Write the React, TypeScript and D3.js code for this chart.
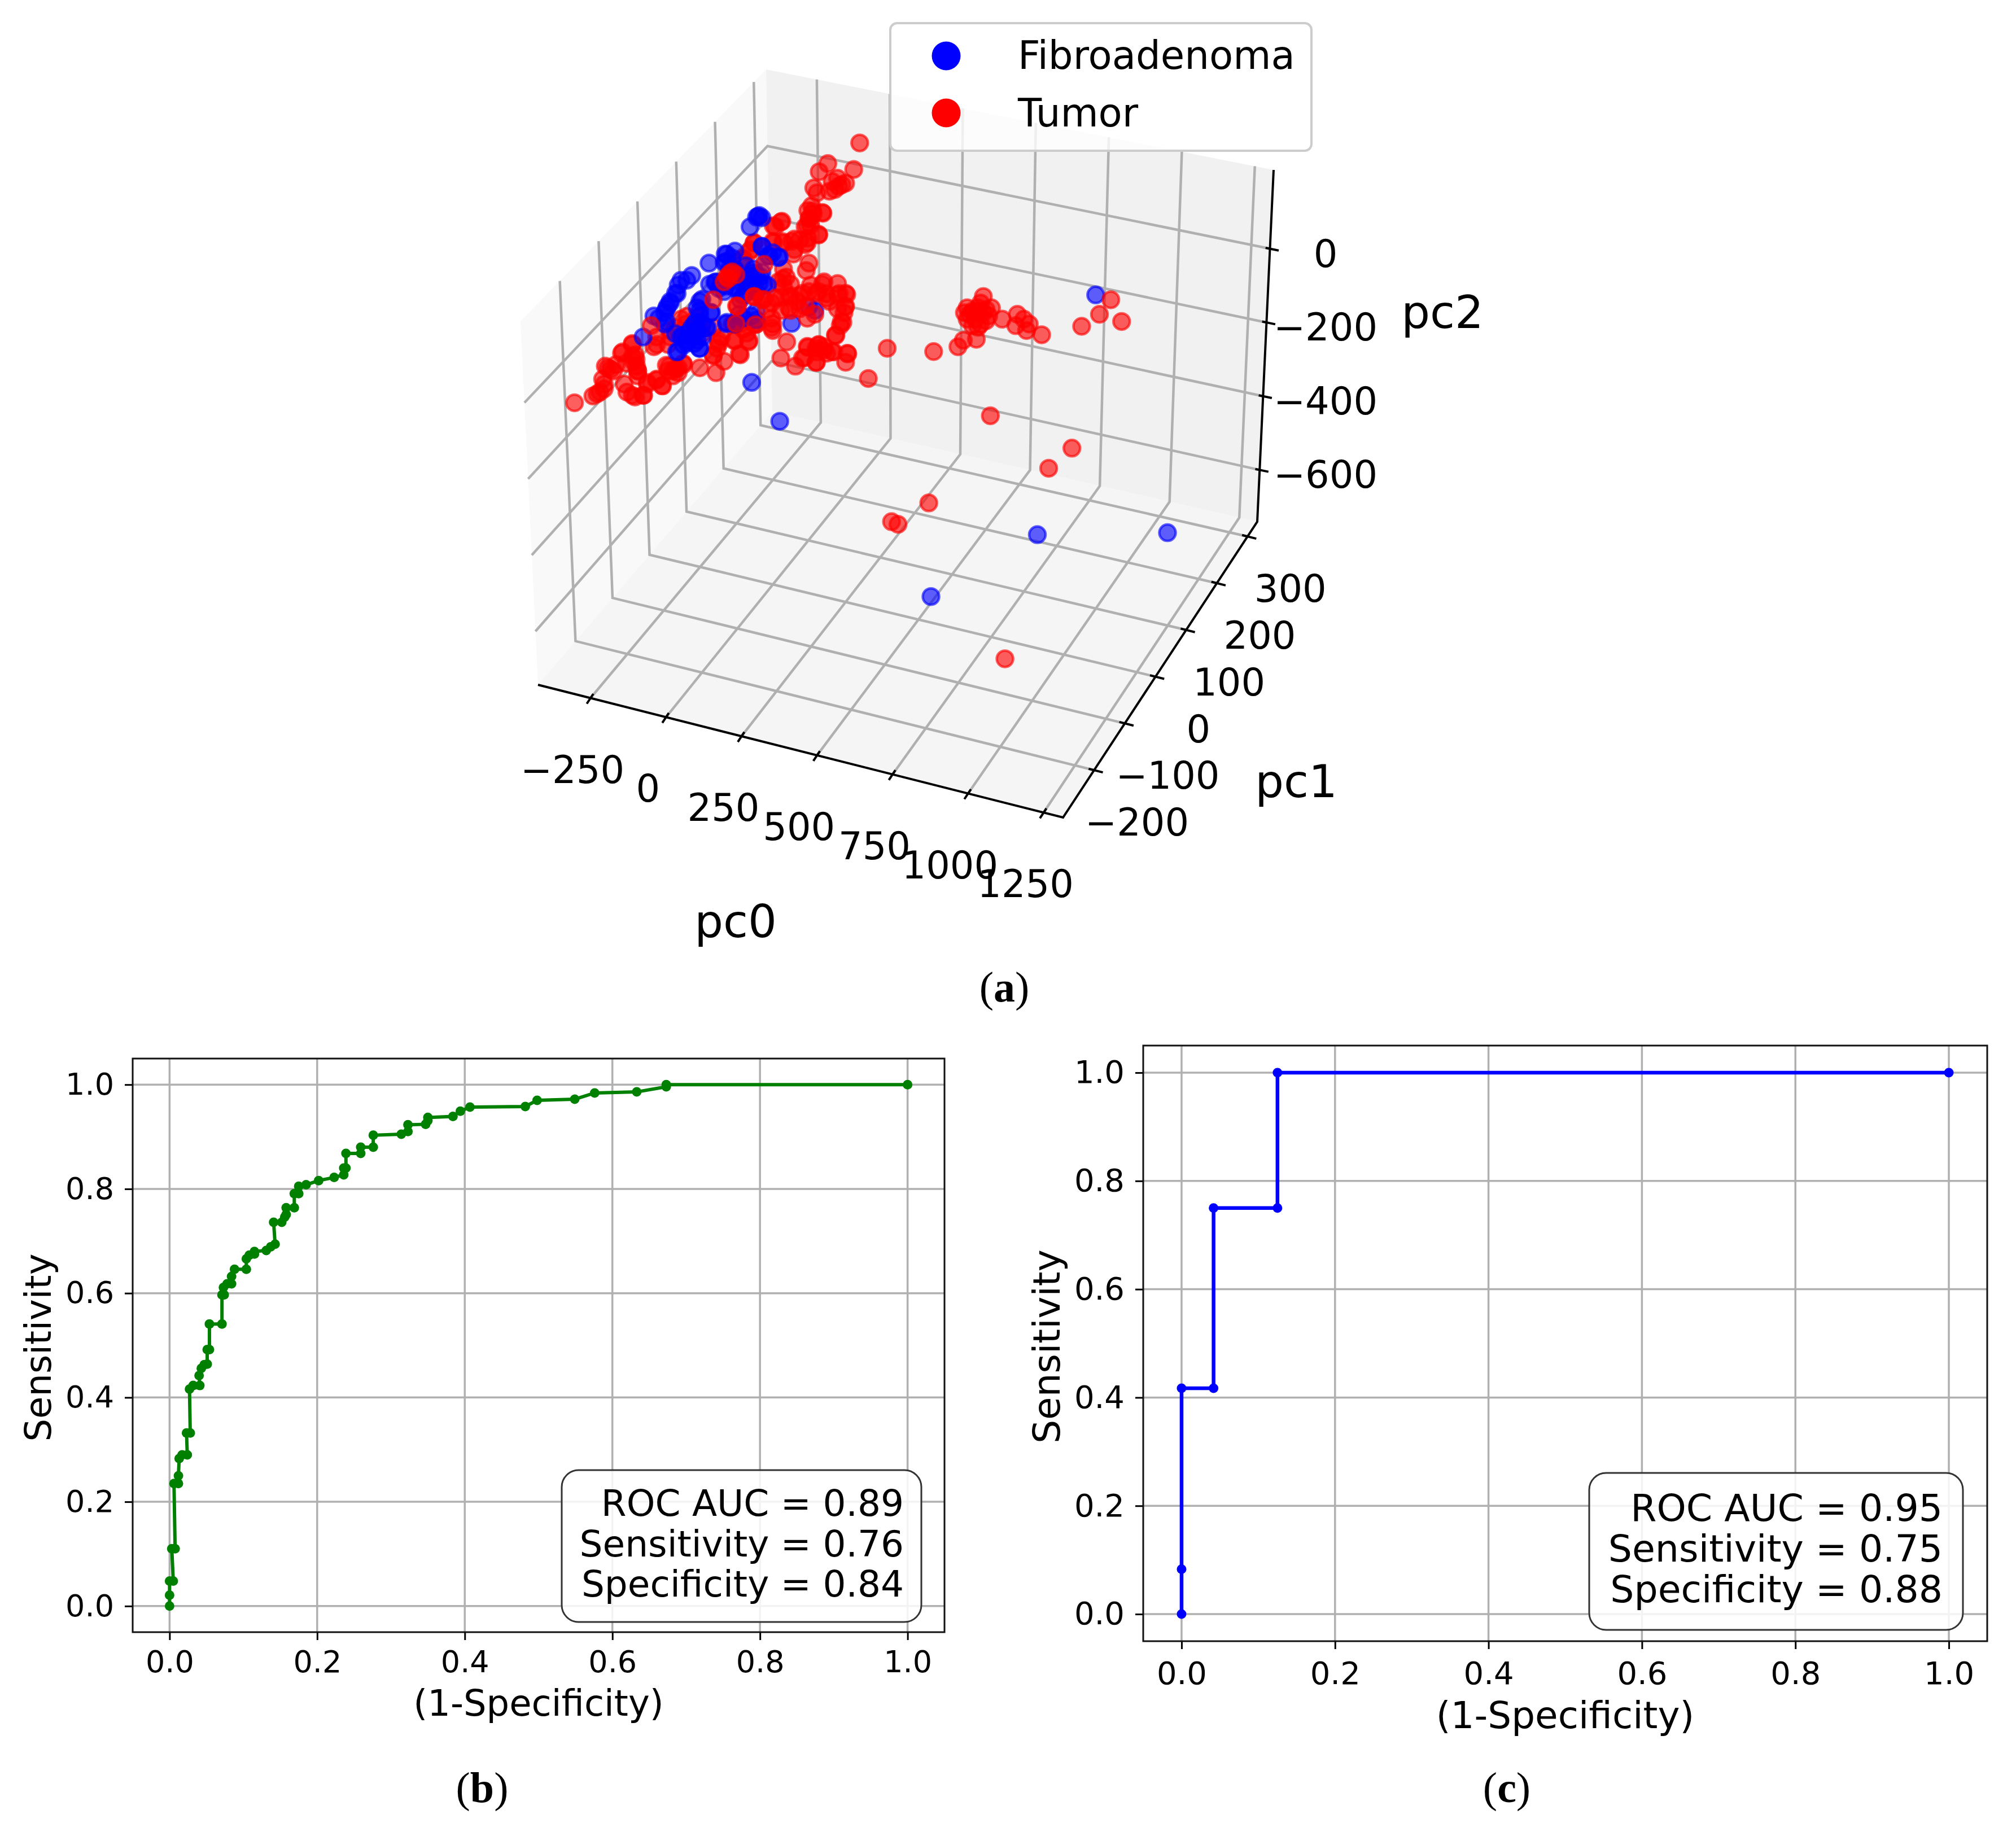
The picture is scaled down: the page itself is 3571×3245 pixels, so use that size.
import React, { useEffect, useRef } from 'react';
import * as d3 from 'd3';

type Pt = [number, number];

// panel (a): only the projected position can be read off a 3D picture, so the
// points are kept in view-plane units (see viewX / viewY below)
const tumorBack: Pt[] = [
  [651, 441], [640, 523], [592, 505], [576, 530], [610, 550], [600, 560], [618, 570], [605, 585], [595, 590],
  [566, 580], [572, 595], [625, 565], [612, 575], [562, 635], [555, 650], [583, 658], [565, 660], [558, 675],
  [560, 695], [550, 700], [505, 685], [495, 700], [575, 725], [555, 735], [540, 740], [525, 745], [510, 750],
  [530, 770], [550, 755], [490, 745], [455, 750], [450, 770], [435, 800], [557, 812], [552, 835], [510, 830],
  [515, 855], [500, 870], [510, 885], [123, 1243], [157, 1222], [170, 1210], [178, 1185], [175, 1170], [185, 1135],
  [200, 1125], [190, 1140], [210, 1090], [230, 1060], [235, 1095], [238, 1130], [240, 1160], [215, 1185], [220, 1210],
  [235, 1225], [250, 1220], [258, 1180], [285, 1190], [275, 1170], [298, 1130], [305, 1160], [315, 1150], [325, 1125],
  [355, 1135], [385, 1150], [400, 1115], [380, 1095], [430, 1095], [420, 1050], [445, 1055], [390, 1060], [395, 1040],
  [300, 1040], [275, 1040], [270, 1070], [330, 1000], [320, 985], [430, 1000], [455, 1000], [415, 1000], [360, 1030],
  [380, 1010], [300, 1020], [490, 1000], [490, 1020], [460, 1000],
  [564, 651], [557, 674], [582, 656], [554, 697], [575, 723], [554, 749], [530, 738], [509, 746], [491, 749],
  [528, 784], [507, 683], [491, 697], [456, 749], [446, 778], [435, 796], [509, 860], [523, 877], [582, 877],
  [390, 1051], [387, 1075], [380, 1098], [428, 1092], [446, 1051], [418, 1051], [442, 1028], [435, 1016], [324, 1121],
  [310, 1138], [296, 1144], [293, 1127], [275, 1063], [296, 1063], [310, 1011], [331, 976], [348, 982], [237, 1109],
  [230, 1063], [240, 1144], [219, 1121], [212, 1086], [230, 1220], [251, 1220], [286, 1191], [275, 1173], [258, 1185],
  [180, 1130], [195, 1145], [230, 1100], [232, 1115], [240, 1145], [178, 1200], [165, 1215], [305, 1145], [315, 1135],
];

const fibroadenoma: Pt[] = [
  [465, 665], [460, 670], [470, 672], [448, 700], [372, 812], [405, 785], [420, 775], [400, 810], [340, 850],
  [320, 865], [315, 880], [310, 905], [295, 945], [300, 930], [290, 965], [270, 975], [250, 1040], [290, 1000],
  [470, 760], [480, 790], [500, 795], [490, 780], [455, 830], [440, 820], [420, 830], [410, 830], [385, 870],
  [390, 890], [400, 900], [420, 890], [440, 860], [460, 850], [465, 875], [440, 905], [430, 925], [460, 900],
  [480, 880], [355, 930], [350, 950], [355, 975], [345, 1000], [350, 1020], [340, 1040], [330, 1050], [325, 1065],
  [355, 1075], [315, 1085], [350, 1050], [375, 965], [405, 995], [460, 960], [450, 975], [525, 998], [420, 1000],
  [310, 1030], [320, 1040], [1088, 910], [503, 1300], [451, 1180], [980, 1650], [1221, 1644], [783, 1841],
  [463, 668], [470, 761], [502, 793], [484, 790], [402, 784], [415, 796], [331, 865], [313, 906], [300, 935],
  [293, 953], [279, 982], [293, 993], [453, 842], [467, 854], [439, 871], [425, 889], [404, 883], [383, 871],
  [373, 877], [418, 842], [404, 807], [453, 889], [474, 877], [435, 912], [359, 924], [355, 958], [348, 993],
  [366, 1011], [348, 1028], [324, 1034], [331, 1057], [354, 1075], [312, 1086], [376, 964], [369, 1011], [404, 999],
  [428, 970], [460, 987], [435, 982], [557, 947], [568, 958], [445, 850], [430, 870], [450, 880], [470, 840],
  [410, 860], [395, 875], [340, 1010], [360, 1000], [335, 1025], [360, 1040], [345, 1060],
];

const tumorFront: Pt[] = [
  [405, 855], [410, 845], [400, 870], [415, 839], [408, 860], [422, 848], [380, 925], [425, 945], [265, 1005], [585, 870],
  [610, 875], [560, 880], [625, 905], [610, 910], [590, 920], [570, 905], [545, 905], [520, 915], [495, 920], [470, 925],
  [455, 915], [535, 930], [550, 945], [520, 950], [480, 955], [625, 945], [622, 965], [595, 930], [620, 995], [615, 1005],
  [607, 1035], [516, 1055], [575, 1065], [570, 1075], [585, 1070], [555, 1072], [600, 1085], [628, 1090], [545, 1105],
  [505, 1105], [532, 1130], [570, 1118], [625, 1118], [590, 1090], [702, 1075], [788, 1085], [833, 1070], [843, 1050],
  [867, 1047], [880, 915], [875, 935], [885, 955], [890, 975], [845, 965], [855, 970], [865, 985], [875, 1000],
  [860, 1005], [885, 990], [870, 960], [915, 985], [943, 970], [940, 1005], [955, 985], [965, 1000], [960, 1020],
  [988, 1033], [1116, 925], [1095, 970], [1136, 992], [1062, 1007], [667, 1168], [893, 1283], [1044, 1383], [1001, 1445],
  [779, 1552], [710, 1610], [722, 1618], [920, 2033],
  [474, 924], [488, 935], [505, 918], [523, 912], [540, 912], [557, 900], [575, 900], [589, 906], [505, 958], [523, 958],
  [540, 953], [488, 982], [488, 1011], [554, 982], [568, 970], [613, 906], [627, 909], [624, 947], [610, 953], [617, 993],
  [606, 1034], [423, 944], [456, 915], [474, 816], [422, 999], [458, 1002], [575, 1063], [571, 1086], [554, 1069],
  [603, 1086], [629, 1092], [571, 1118], [549, 1104], [585, 1080], [870, 950], [880, 965], [860, 960], [850, 985],
  [870, 1010], [895, 950], [850, 950],
];

const pc0Ticks = [-250, 0, 250, 500, 750, 1000, 1250];
const pc1Ticks = [-200, -100, 0, 100, 200, 300];
const pc2Ticks = [-600, -400, -200, 0];

const legendItems = [
  { label: 'Fibroadenoma', color: '#0000ff' },
  { label: 'Tumor', color: '#ff0000' },
];

// panel (b)
const rocBFpr = [
  0, 0, 0, .005, .003, .0075, .006, .012, .012, .013, .017, .024, .023, .028, .027, .032, .041, .04, .043, .047, .051,
  .051, .054, .054, .071, .071, .074, .073, .078, .084, .084, .088, .104, .104, .108, .115, .115, .131, .137, .143,
  .141, .152, .156, .158, .158, .169, .169, .175, .175, .185, .202, .223, .236, .236, .239, .239, .259, .259, .276,
  .276, .314, .323, .323, .347, .35, .35, .384, .394, .407, .482, .498, .549, .576, .633, .673, .673, 1,
];
const rocBTpr = [
  0, .021, .048, .048, .11, .11, .235, .235, .25, .283, .29, .29, .332, .332, .416, .423, .423, .442, .456, .463, .464,
  .492, .492, .541, .541, .597, .597, .611, .618, .618, .632, .646, .646, .666, .673, .675, .68, .682, .689, .694,
  .736, .736, .746, .751, .764, .764, .791, .791, .805, .808, .816, .822, .827, .84, .84, .868, .868, .88, .88,
  .903, .905, .91, .923, .924, .931, .937, .939, .949, .957, .958, .97, .972, .984, .986, .996, 1, 1,
];
const rocBText = ['ROC AUC = 0.89', 'Sensitivity = 0.76', 'Specificity = 0.84'];

// panel (c)
const rocCFpr = [0, 0, 0, .0417, .0417, .125, .125, 1];
const rocCTpr = [0, .083, .417, .417, .75, .75, 1, 1];
const rocCText = ['ROC AUC = 0.95', 'Sensitivity = 0.75', 'Specificity = 0.88'];

const rocTicks = [0, .2, .4, .6, .8, 1];
const FONT = '"DejaVu Sans"';

// box corners of the 3D axes, in page pixels
const backFloor: Pt = [1368, 729];
const leftFloor: Pt = [953, 1213];
const frontFloor: Pt = [1883, 1448];
const rightFloor: Pt = [2227, 924];
const backTop: Pt = [1357, 123];
const leftTop: Pt = [922, 569];
const rightTop: Pt = [2256, 301];

const along = (a: Pt, b: Pt, t: number): Pt => [a[0] + (b[0] - a[0]) * t, a[1] + (b[1] - a[1]) * t];

function drawScatter(svg: any) {
  const g = svg.append('g');
  const linePath = d3.line();

  const wall = (pts: Pt[], fill: string) => g.append('path').attr('d', linePath(pts) + 'Z').attr('fill', fill);
  wall([leftFloor, backFloor, backTop, leftTop], '#f9f9f9');
  wall([backFloor, rightFloor, rightTop, backTop], '#f1f1f1');
  wall([leftFloor, frontFloor, rightFloor, backFloor], '#f5f5f5');

  const t0 = d3.scaleLinear().domain([-250, 1250]).range([.1, .963]);
  const t1 = d3.scaleLinear().domain([-200, 300]).range([.16, .95]);
  const t2 = d3.scaleLinear().domain([-600, 0]).range([.147, .776]);

  const grid = (pts: Pt[]) =>
    g.append('path').attr('d', linePath(pts)).attr('fill', 'none').attr('stroke', '#b0b0b0').attr('stroke-width', 4.5);

  pc0Ticks.forEach((v) => {
    const t = t0(v);
    grid([along(leftFloor, frontFloor, t), along(backFloor, rightFloor, t), along(backTop, rightTop, t)]);
  });
  pc1Ticks.forEach((v) => {
    const t = t1(v);
    grid([along(frontFloor, rightFloor, t), along(leftFloor, backFloor, t), along(leftTop, backTop, t)]);
  });
  pc2Ticks.forEach((v) => {
    const t = t2(v);
    grid([along(rightFloor, rightTop, t), along(backFloor, backTop, t), along(leftFloor, leftTop, t)]);
  });

  // black axis lines
  g.append('path')
    .attr('d', linePath([leftFloor, frontFloor, rightFloor, rightTop]))
    .attr('fill', 'none')
    .attr('stroke', '#000')
    .attr('stroke-width', 4);

  const tickMark = (p: Pt, dir: Pt, a: number, b: number) =>
    g.append('line')
      .attr('x1', p[0] + dir[0] * a).attr('y1', p[1] + dir[1] * a)
      .attr('x2', p[0] + dir[0] * b).attr('y2', p[1] + dir[1] * b)
      .attr('stroke', '#000').attr('stroke-width', 4);

  const label = (x: number, y: number, text: string, size = 67, anchor = 'middle') =>
    g.append('text')
      .attr('x', x).attr('y', y)
      .attr('text-anchor', anchor)
      .attr('font-family', FONT).attr('font-size', size)
      .attr('fill', '#000')
      .text(text);

  const fmt = (v: number) => String(v).replace('-', '\u2212');

  pc0Ticks.forEach((v) => {
    const p = along(leftFloor, frontFloor, t0(v));
    tickMark(p, [.55, -.835], -12, 9);
    label(p[0] - 32, p[1] + 150, fmt(v));
  });
  pc1Ticks.forEach((v) => {
    const p = along(frontFloor, rightFloor, t1(v));
    tickMark(p, [.97, .245], -10, 16);
    label(p[0] + 76, p[1] + 116, fmt(v));
  });
  pc2Ticks.forEach((v) => {
    const p = along(rightFloor, rightTop, t2(v));
    tickMark(p, [.97, .2], -8, 16);
    label(2348, p[1] + 32, fmt(v));
  });

  label(1303, 1660, 'pc0', 80);
  label(2296, 1412, 'pc1', 80);
  label(2555, 581, 'pc2', 80);

  // view-plane units -> page pixels
  const viewX = d3.scaleLinear().domain([0, 1568]).range([900, 2400]);
  const viewY = d3.scaleLinear().domain([0, 1568]).range([0, 900]);

  const dots = (data: Pt[], color: string) =>
    g.append('g')
      .selectAll('circle')
      .data(data)
      .join('circle')
      .attr('cx', (d: Pt) => viewX(d[0]))
      .attr('cy', (d: Pt) => viewY(d[1]))
      .attr('r', 14.5)
      .attr('fill', color)
      .attr('fill-opacity', .62)
      .attr('stroke', color)
      .attr('stroke-opacity', .62)
      .attr('stroke-width', 4.5);

  dots(tumorBack, '#ff0000');
  dots(fibroadenoma, '#0000ff');
  dots(tumorFront, '#ff0000');

  // legend
  g.append('rect')
    .attr('x', 1577).attr('y', 41).attr('width', 746).attr('height', 226).attr('rx', 12)
    .attr('fill', '#fff').attr('fill-opacity', .8)
    .attr('stroke', '#cccccc').attr('stroke-width', 4);
  legendItems.forEach((item, i) => {
    g.append('circle').attr('cx', 1676).attr('cy', 99 + i * 101).attr('r', 25.5).attr('fill', item.color);
    label(1803, 122 + i * 102, item.label, 69, 'start');
  });
}

function drawRoc(svg: any, opts: any) {
  const { fpr, tpr, text, color, left, right, top, bottom, tickSize, labelSize, box, textRight, baselines, ylabelX, ylabelY, xlabelY, tickPadX, lineWidth } = opts;
  const x = d3.scaleLinear().domain([-.05, 1.05]).range([left, right]);
  const y = d3.scaleLinear().domain([-.05, 1.05]).range([bottom, top]);
  const g = svg.append('g');

  // grid
  g.append('g').selectAll('line').data(rocTicks).join('line')
    .attr('x1', (d: number) => x(d)).attr('x2', (d: number) => x(d))
    .attr('y1', top).attr('y2', bottom)
    .attr('stroke', '#b0b0b0').attr('stroke-width', 3.5);
  g.append('g').selectAll('line').data(rocTicks).join('line')
    .attr('y1', (d: number) => y(d)).attr('y2', (d: number) => y(d))
    .attr('x1', left).attr('x2', right)
    .attr('stroke', '#b0b0b0').attr('stroke-width', 3.5);

  const styleAxis = (sel: any) => {
    sel.select('.domain').remove();
    sel.selectAll('.tick line').attr('stroke', '#000').attr('stroke-width', 3);
    sel.selectAll('.tick text').attr('font-family', FONT).attr('font-size', tickSize).attr('fill', '#000');
  };

  g.append('g').attr('transform', `translate(0,${bottom})`)
    .call(d3.axisBottom(x).tickValues(rocTicks).tickFormat(d3.format('.1f')).tickSize(14).tickPadding(tickPadX))
    .call(styleAxis);
  g.append('g').attr('transform', `translate(${left},0)`)
    .call(d3.axisLeft(y).tickValues(rocTicks).tickFormat(d3.format('.1f')).tickSize(14).tickPadding(19))
    .call(styleAxis);

  const pts = fpr.map((f: number, i: number) => [f, tpr[i]]);
  const line = d3.line().x((d: any) => x(d[0])).y((d: any) => y(d[1]));
  g.append('path').attr('d', line(pts)).attr('fill', 'none').attr('stroke', color).attr('stroke-width', lineWidth);
  g.append('g').selectAll('circle').data(pts).join('circle')
    .attr('cx', (d: any) => x(d[0])).attr('cy', (d: any) => y(d[1]))
    .attr('r', 8.5).attr('fill', color);

  // spines on top of the grid
  g.append('rect')
    .attr('x', left).attr('y', top).attr('width', right - left).attr('height', bottom - top)
    .attr('fill', 'none').attr('stroke', '#111').attr('stroke-width', 3);

  // stats box
  g.append('rect')
    .attr('x', box[0]).attr('y', box[1]).attr('width', box[2] - box[0]).attr('height', box[3] - box[1]).attr('rx', 30)
    .attr('fill', '#fff').attr('fill-opacity', .85)
    .attr('stroke', '#333').attr('stroke-width', 3);
  text.forEach((t: string, i: number) => {
    g.append('text')
      .attr('x', textRight).attr('y', baselines[i])
      .attr('text-anchor', 'end')
      .attr('font-family', FONT).attr('font-size', labelSize + .5)
      .attr('fill', '#000')
      .text(t);
  });

  g.append('text')
    .attr('x', (left + right) / 2).attr('y', xlabelY)
    .attr('text-anchor', 'middle')
    .attr('font-family', FONT).attr('font-size', labelSize)
    .text('(1-Specificity)');
  g.append('text')
    .attr('transform', `translate(${ylabelX},${ylabelY}) rotate(-90)`)
    .attr('text-anchor', 'middle')
    .attr('font-family', FONT).attr('font-size', labelSize)
    .text('Sensitivity');
}

function caption(svg: any, x: number, y: number, letter: string) {
  const t = svg.append('text')
    .attr('x', x).attr('y', y)
    .attr('text-anchor', 'middle')
    .attr('font-family', '"Liberation Serif"').attr('font-size', 76)
    .attr('fill', '#000');
  t.append('tspan').text('(');
  t.append('tspan').attr('font-weight', 'bold').text(letter);
  t.append('tspan').text(')');
}

export default function App() {
  const ref = useRef<SVGSVGElement>(null);

  useEffect(() => {
    const svg = d3.select(ref.current);
    svg.selectAll('*').remove();
    drawScatter(svg);
    drawRoc(svg, {
      fpr: rocBFpr, tpr: rocBTpr, text: rocBText, color: '#008000', lineWidth: 6,
      left: 235, right: 1673, top: 1875, bottom: 2891,
      tickSize: 54, labelSize: 64, tickPadX: 19,
      box: [995, 2604, 1632, 2873], textRight: 1601, baselines: [2685, 2757, 2828],
      ylabelX: 90, ylabelY: 2387, xlabelY: 3039,
    });
    drawRoc(svg, {
      fpr: rocCFpr, tpr: rocCTpr, text: rocCText, color: '#0000ff', lineWidth: 6.5,
      left: 2025, right: 3520, top: 1852, bottom: 2907,
      tickSize: 56, labelSize: 66, tickPadX: 22,
      box: [2815, 2609, 3477, 2887], textRight: 3441, baselines: [2694, 2766, 2838],
      ylabelX: 1877, ylabelY: 2385, xlabelY: 3061,
    });
    caption(svg, 1779, 1774, 'a');
    caption(svg, 854, 3192, 'b');
    caption(svg, 2669, 3192, 'c');
  }, []);

  return (
    <svg
      ref={ref}
      width={3571}
      height={3245}
      style={{ position: 'absolute', left: 0, top: 0, background: '#fff' }}
    />
  );
}
